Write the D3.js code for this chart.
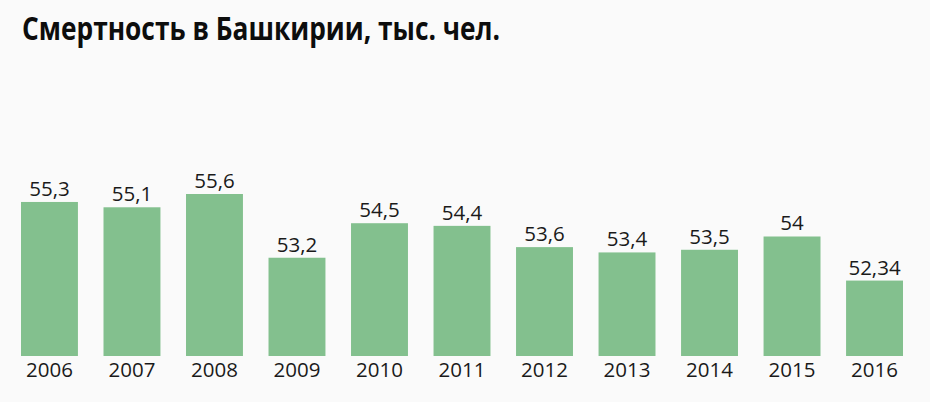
<!DOCTYPE html>
<html><head><meta charset="utf-8">
<script src="https://cdn.jsdelivr.net/npm/d3@7"></script>
<style>
html,body{margin:0;padding:0;background:#fafafa;}
svg{display:block;}
</style></head>
<body>
<script>
const years = ["2006","2007","2008","2009","2010","2011","2012","2013","2014","2015","2016"];
const values = [55.3,55.1,55.6,53.2,54.5,54.4,53.6,53.4,53.5,54,52.34];
const valueLabels = ["55,3","55,1","55,6","53,2","54,5","54,4","53,6","53,4","53,5","54","52,34"];
const title = "Смертность в Башкирии, тыс. чел.";

const W = 930, H = 402;
const svg = d3.select("body").append("svg").attr("width", W).attr("height", H);
svg.append("rect").attr("width", W).attr("height", H).attr("fill", "#fafafa");

const x = d3.scaleBand().domain(years).range([21, 903]).paddingInner(0.31).paddingOuter(0);
const y = d3.scaleLinear().domain([49.5, 55.6]).range([356, 194]);

svg.append("text")
  .attr("x", 22).attr("y", 40)
  .attr("font-family", "Open Sans, sans-serif")
  .attr("font-weight", 700)
  .attr("font-size", 33)
  .attr("fill", "#0d0d0d")
  .attr("textLength", 478).attr("lengthAdjust", "spacingAndGlyphs")
  .text(title);

const g = svg.append("g");
g.selectAll("rect.bar").data(years).join("rect")
  .attr("class", "bar")
  .attr("x", d => x(d))
  .attr("width", x.bandwidth())
  .attr("y", (d, i) => y(values[i]))
  .attr("height", (d, i) => y(49.5) - y(values[i]))
  .attr("fill", "#83c08e");

g.selectAll("text.val").data(years).join("text")
  .attr("class", "val")
  .attr("x", d => x(d) + x.bandwidth() / 2)
  .attr("y", (d, i) => y(values[i]) - 6)
  .attr("text-anchor", "middle")
  .attr("font-family", "Open Sans, sans-serif")
  .attr("font-size", 20.5)
  .attr("fill", "#1a1a1a")
  .text((d, i) => valueLabels[i]);

const xAxis = d3.axisBottom(x).tickSize(0).tickPadding(0);
const ax = svg.append("g").attr("transform", "translate(0,362)").call(xAxis);
ax.select(".domain").remove();
ax.selectAll("text")
  .attr("dy", "0.75em")
  .attr("font-family", "Open Sans, sans-serif")
  .attr("font-size", 20.5)
  .attr("fill", "#1a1a1a");
</script>
</body></html>
